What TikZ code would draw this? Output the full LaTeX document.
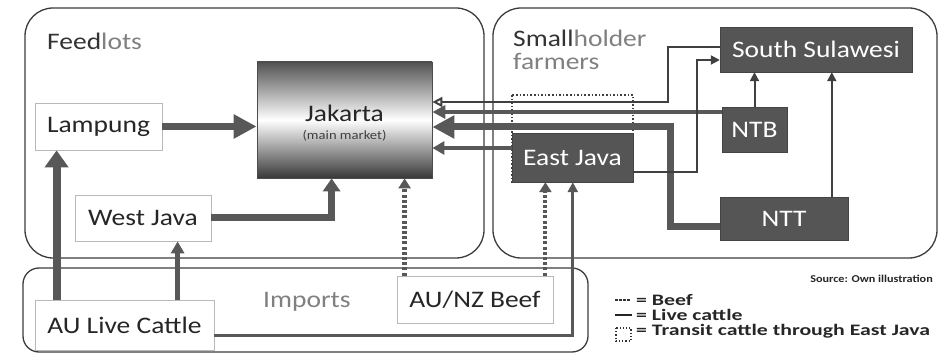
\documentclass[tikz,border=0pt]{standalone}
\usepackage{fontspec}
\setmainfont{Carlito}[FakeStretch=1.16]
\newfontfamily\legfont{Carlito}[FakeStretch=1.36]
\usetikzlibrary{arrows.meta}
\definecolor{arr}{RGB}{88,88,88}
\definecolor{dboxc}{RGB}{85,85,85}
\definecolor{framec}{RGB}{60,60,60}
\definecolor{lgray}{RGB}{128,128,128}
\begin{document}
\begin{tikzpicture}[x=1pt,y=-1pt,
  font=\fontsize{23.7}{26}\selectfont,
  wbox/.style={draw=gray!55, line width=0.8pt, fill=white, inner sep=0pt, text=black!85},
  dbox/.style={fill=dboxc, draw=dboxc!80!black, inner sep=0pt, text=white},
  regionbox/.style={draw=framec, line width=1.3pt, rounded corners=#1},
  regionbox/.default=25pt,
  flow/.style={draw=arr, line width=#1},
  beef/.style={draw=arr, line width=#1, dash pattern=on 3pt off 2.2pt},
  txt/.style={inner sep=0pt},
  legtxt/.style={inner sep=0pt, anchor=base west, text=black!85, font=\legfont\bfseries\fontsize{16}{17}\selectfont}
]
\useasboundingbox (0,0) rectangle (946,355);

% regions
\draw[regionbox=28pt] (25,8) rectangle (484,258);
\draw[regionbox=28pt] (493,8) rectangle (937,258);
\draw[regionbox=16pt] (23,268) rectangle (588,352);

% region titles
\node[txt, anchor=base west, text=black!80] (feed) at (47,50) {Feed\textcolor{lgray}{lots}};
\node[txt, anchor=base west, text=black!80] (small) at (513,47) {Small\textcolor{lgray}{holder}};
\node[txt, anchor=base west, text=lgray] (farm) at (513,70) {farmers};
\node[txt, anchor=base west, text=lgray] (imports) at (263,308) {Imports};

% transit box
\draw[draw=black!75, line width=1.6pt, dotted] (512,95) rectangle (633,182);

% nodes
\node[wbox, minimum width=127pt, minimum height=47pt] (lampung) at (98.5,126.5) {Lampung};
\node[draw=black!70, line width=0.8pt, inner sep=0pt, minimum width=175pt, minimum height=116pt,
      top color=black!68, bottom color=black!78, middle color=white] (jakarta) at (344.5,120) {};
\node[txt, anchor=base, text=black!85] (jtitle) at (344.5,122) {Jakarta};
\node[txt, anchor=base, text=black!75, font=\fontsize{12.6}{14}\selectfont] (jsub) at (344.5,140) {(main market)};
\node[wbox, minimum width=136pt, minimum height=46pt] (westjava) at (143,218) {West Java};
\node[wbox, minimum width=179pt, minimum height=50pt] (aulive) at (124.5,325) {AU Live Cattle};
\node[wbox, minimum width=156pt, minimum height=47pt] (aunz) at (475,299.5) {AU/NZ Beef};
\node[dbox, minimum width=121pt, minimum height=49pt] (eastjava) at (572.5,157.5) {East Java};
\node[dbox, minimum width=65pt, minimum height=45pt] (ntb) at (754.5,129.5) {NTB};
\node[dbox, minimum width=192pt, minimum height=45pt] (sulawesi) at (816,49.5) {South Sulawesi};
\node[dbox, minimum width=128pt, minimum height=43pt] (ntt) at (784,218.5) {NTT};

% turning points
\coordinate (s1) at (668,47);
\coordinate (s2) at (668,102);
\coordinate (t1) at (670,226.5);
\coordinate (t2) at (670,127);
\coordinate (e1) at (697,172);
\coordinate (e2) at (697,60);

% feedlot arrows
\draw[flow=7pt, -{Triangle[length=23pt,width=23pt]}] (lampung.east) -- (lampung.east -| jakarta.west);
\draw[flow=8pt, -{Triangle[length=17pt,width=23pt]}] ([xshift=22pt]aulive.north west) -- ([xshift=22pt]lampung.south west);
\draw[flow=5pt, -{Triangle[length=12pt,width=13pt]}] ([xshift=143pt]aulive.north west) -- ([xshift=143pt]aulive.north west |- westjava.south);
\draw[flow=7pt, -{Triangle[length=13pt,width=17pt]}] (westjava.east) -| ([xshift=75pt]jakarta.south west);
\draw[beef=5pt, -{Triangle[length=10pt,width=12pt]}] ([xshift=8pt]aunz.north west) -- ([xshift=8pt]aunz.north west |- jakarta.south);
\draw[beef=4pt, -{Triangle[length=10pt,width=12pt]}] ([xshift=-8pt]aunz.north east) -- ([xshift=-8pt]aunz.north east |- eastjava.south);
\draw[flow=3pt, -{Triangle[length=10pt,width=10pt]}] ([yshift=-11pt]aulive.east) -| ([xshift=61pt]eastjava.south west);

% arrows into Jakarta from the islands
\draw[draw=black!75, line width=2pt, -{Triangle[open,length=10pt,width=10pt]}] (sulawesi.west |- s1) -- (s1) -- (s2) -- (s2 -| jakarta.east);
\draw[flow=4pt, -{Triangle[length=13pt,width=13pt]}] ([yshift=17.5pt]ntb.west) -- ([yshift=17.5pt]ntb.west -| jakarta.east);
\draw[flow=7pt, -{Triangle[length=22pt,width=22pt]}] (ntt.west |- t1) -- (t1) -- (t2) -- (t2 -| jakarta.east);
\draw[flow=4pt, -{Triangle[length=12pt,width=13pt]}] ([yshift=9.5pt]eastjava.west) -- ([yshift=9.5pt]eastjava.west -| jakarta.east);

% arrows into South Sulawesi
\draw[draw=black!75, line width=2pt, -{Triangle[length=9pt,width=9pt]}] (eastjava.east |- e1) -- (e1) -- (e2) -- (e2 -| sulawesi.west);
\draw[draw=black!75, line width=2pt, -{Triangle[length=9pt,width=9pt]}] (ntb.north) -- (ntb.north |- sulawesi.south);
\draw[draw=black!75, line width=2pt, -{Triangle[length=9pt,width=9pt]}] ([xshift=112pt]ntt.north west) -- ([xshift=112pt]ntt.north west |- sulawesi.south);

% source and legend
\node[txt, anchor=base east, text=black!85, font=\bfseries\fontsize{10.5}{12}\selectfont] (src) at (933,283) {Source: Own illustration};
\draw[black!80, line width=1.5pt, dash pattern=on 2.5pt off 1.5pt] (615,300) -- (631,300);
\draw[black!85, line width=2.5pt] (615,315) -- (632,315);
\draw[black!80, line width=1.2pt, dotted] (616,328) rectangle (631,341);
\node[legtxt] (lbeef) at (636,306) {= Beef};
\node[legtxt] (llive) at (636,320.5) {= Live cattle};
\node[legtxt] (ltransit) at (636,335.5) {= Transit cattle through East Java};
\end{tikzpicture}
\end{document}
